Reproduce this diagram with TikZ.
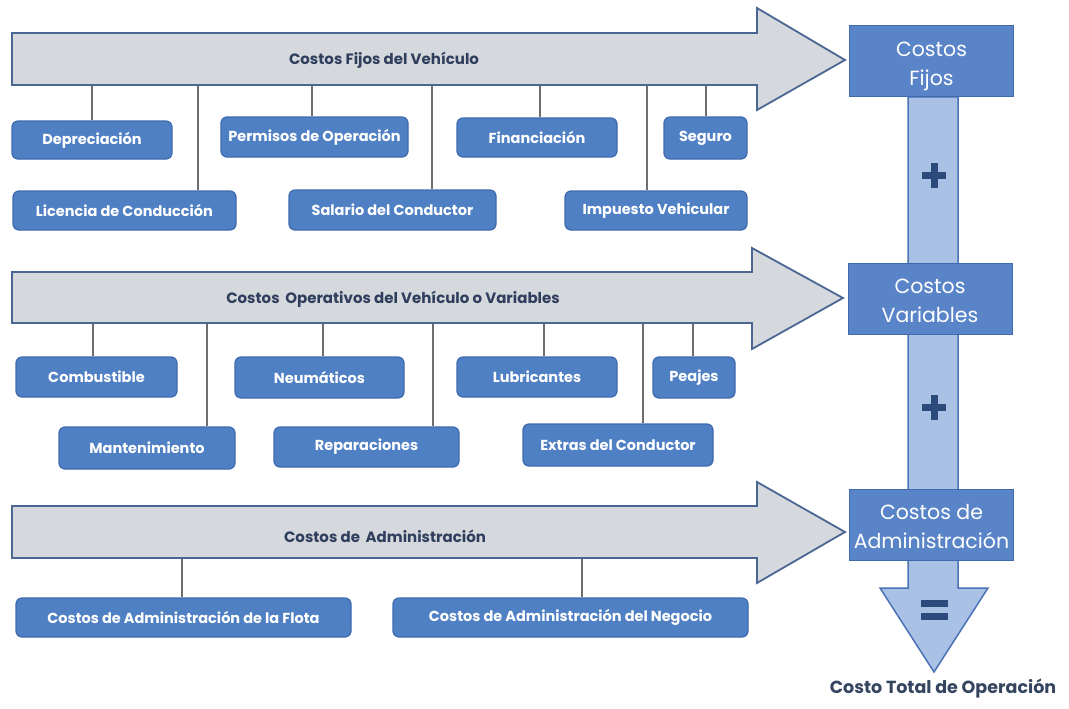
\documentclass[tikz,border=0pt]{standalone}
\usepackage{fontspec}
\setmainfont{Poppins}
\definecolor{itemfill}{HTML}{5080C4}
\definecolor{itemedge}{HTML}{3F6AAE}
\definecolor{bandfill}{HTML}{D5D8DD}
\definecolor{bandedge}{HTML}{4A6794}
\definecolor{linkgray}{HTML}{6E6E6E}
\definecolor{sumfill}{HTML}{5A84C8}
\definecolor{colfill}{HTML}{A9C1E5}
\definecolor{coledge}{HTML}{4A72B5}
\definecolor{navy}{HTML}{2C4A7C}
\definecolor{titletext}{HTML}{2E3E5C}
\definecolor{totaltext}{HTML}{35455F}
% two-line label for the result boxes, lowered slightly so the pair sits optically centred
\newcommand\sumlines[1]{\raisebox{-4pt}[\height][\depth]{\begin{tabular}{@{}c@{}}#1\end{tabular}}}
\begin{document}
\begin{tikzpicture}[x=1pt,y=-1pt,
  item/.style={draw=itemedge,fill=itemfill,rounded corners=6pt,line width=1.2pt,
    text=white,font=\bfseries\fontsize{14.5}{16}\selectfont,inner sep=0pt,anchor=center},
  sumbox/.style={draw=itemedge,fill=sumfill,line width=1pt,text=white,
    font=\fontsize{20.5}{29}\selectfont,align=center,inner sep=0pt,
    minimum width=164pt,minimum height=71pt},
  band/.style={draw=bandedge,fill=bandfill,line width=1.8pt,line join=miter},
  bandtitle/.style={text=titletext,font=\fontsize{15}{17}\selectfont\bfseries},
  link/.style={draw=linkgray,line width=1.8pt},
  sign/.style={fill=navy,draw=none}]
\useasboundingbox (0,0) rectangle (1069,709);
\fill[white] (0,0) rectangle (1069,709);

% ---- vertical summation column ending in a downward arrow
\draw[draw=coledge,fill=colfill,line width=1.5pt]
  (908,97) -- (958,97) -- (958,588) -- (988,588) -- (934,672) -- (880,588) -- (908,588) -- cycle;
\fill[sign] (922,172) rectangle (946,179);
\fill[sign] (930.5,163) rectangle (937.5,188);
\fill[sign] (922,404) rectangle (946,411);
\fill[sign] (930.5,395) rectangle (937.5,420);
\fill[sign] (921,600) rectangle (948,607);
\fill[sign] (921,613) rectangle (948,620);

% ---- result boxes
\node[sumbox] (cf) at (931.5,61.5) {\sumlines{Costos\\Fijos}};
\node[sumbox] (cv) at (930,298.5) {\sumlines{Costos\\Variables}};
\node[sumbox] (ca) at (931.5,524.5) {\sumlines{Costos de\\Administración}};
\node[text=totaltext,font=\fontsize{17.5}{20}\selectfont\bfseries] (total) at (943,689) {Costo Total de Operación};

% ---- band 1: fixed costs
\draw[band] (12,33) -- (757,33) -- (757,8) -- (845,60) -- (757,110) -- (757,85) -- (12,85) -- cycle;
\node[bandtitle] (t1) at (384,60) {Costos Fijos del Vehículo};
\node[item,minimum width=160pt,minimum height=38pt] (dep) at (92,140) {Depreciación};
\node[item,minimum width=187pt,minimum height=40pt] (perm) at (314.5,137) {Permisos de Operación};
\node[item,minimum width=160pt,minimum height=39pt] (fin) at (537,137.5) {Financiación};
\node[item,minimum width=83pt,minimum height=42pt] (seg) at (705.5,138) {Seguro};
\node[item,minimum width=223pt,minimum height=39pt] (lic) at (124.5,210.5) {Licencia de Conducción};
\node[item,minimum width=207pt,minimum height=40pt] (sal) at (392.5,210) {Salario del Conductor};
\node[item,minimum width=182pt,minimum height=39pt] (imp) at (656,210.5) {Impuesto Vehicular};
\coordinate (u-dep) at (92,86);
\coordinate (u-lic) at (198,86);
\coordinate (u-perm) at (312,86);
\coordinate (u-sal) at (432,86);
\coordinate (u-fin) at (540,86);
\coordinate (u-imp) at (647,86);
\coordinate (u-seg) at (706,86);
\foreach \b in {dep,lic,perm,sal,fin,imp,seg}
  \draw[link] (u-\b) -- (u-\b |- \b.north);

% ---- band 2: operating (variable) costs
\draw[band] (12,272) -- (752,272) -- (752,248) -- (843,298) -- (752,349) -- (752,323) -- (12,323) -- cycle;
\node[bandtitle] (t2) at (393,299) {Costos\, Operativos del Vehículo o Variables};
\node[item,minimum width=161pt,minimum height=40pt] (comb) at (96.5,377) {Combustible};
\node[item,minimum width=169pt,minimum height=41pt] (neu) at (319.5,377.5) {Neumáticos};
\node[item,minimum width=160pt,minimum height=40pt] (lub) at (537,377) {Lubricantes};
\node[item,minimum width=82pt,minimum height=41pt] (pea) at (694,377.5) {Peajes};
\node[item,minimum width=176pt,minimum height=42pt] (man) at (147,448) {Mantenimiento};
\node[item,minimum width=185pt,minimum height=40pt] (rep) at (366.5,447) {Reparaciones};
\node[item,minimum width=190pt,minimum height=42pt] (ext) at (618,445) {Extras del Conductor};
\coordinate (u-comb) at (93,324);
\coordinate (u-man) at (207,324);
\coordinate (u-neu) at (323,324);
\coordinate (u-rep) at (433,324);
\coordinate (u-lub) at (544,324);
\coordinate (u-ext) at (643,324);
\coordinate (u-pea) at (693,324);
\foreach \b in {comb,man,neu,rep,lub,ext,pea}
  \draw[link] (u-\b) -- (u-\b |- \b.north);

% ---- band 3: administration costs
\draw[band] (12,506) -- (757,506) -- (757,482) -- (845,532) -- (757,583) -- (757,558) -- (12,558) -- cycle;
\node[bandtitle] (t3) at (385,536) {Costos de\, Administración};
\node[item,minimum width=335pt,minimum height=39pt] (flota) at (183.5,617.5) {Costos de Administración de la Flota};
\node[item,minimum width=355pt,minimum height=39pt] (neg) at (570.5,617.5) {Costos de Administración del Negocio};
\coordinate (u-flota) at (182,559);
\coordinate (u-neg) at (582,559);
\foreach \b in {flota,neg}
  \draw[link] (u-\b) -- (u-\b |- \b.north);
\end{tikzpicture}
\end{document}
